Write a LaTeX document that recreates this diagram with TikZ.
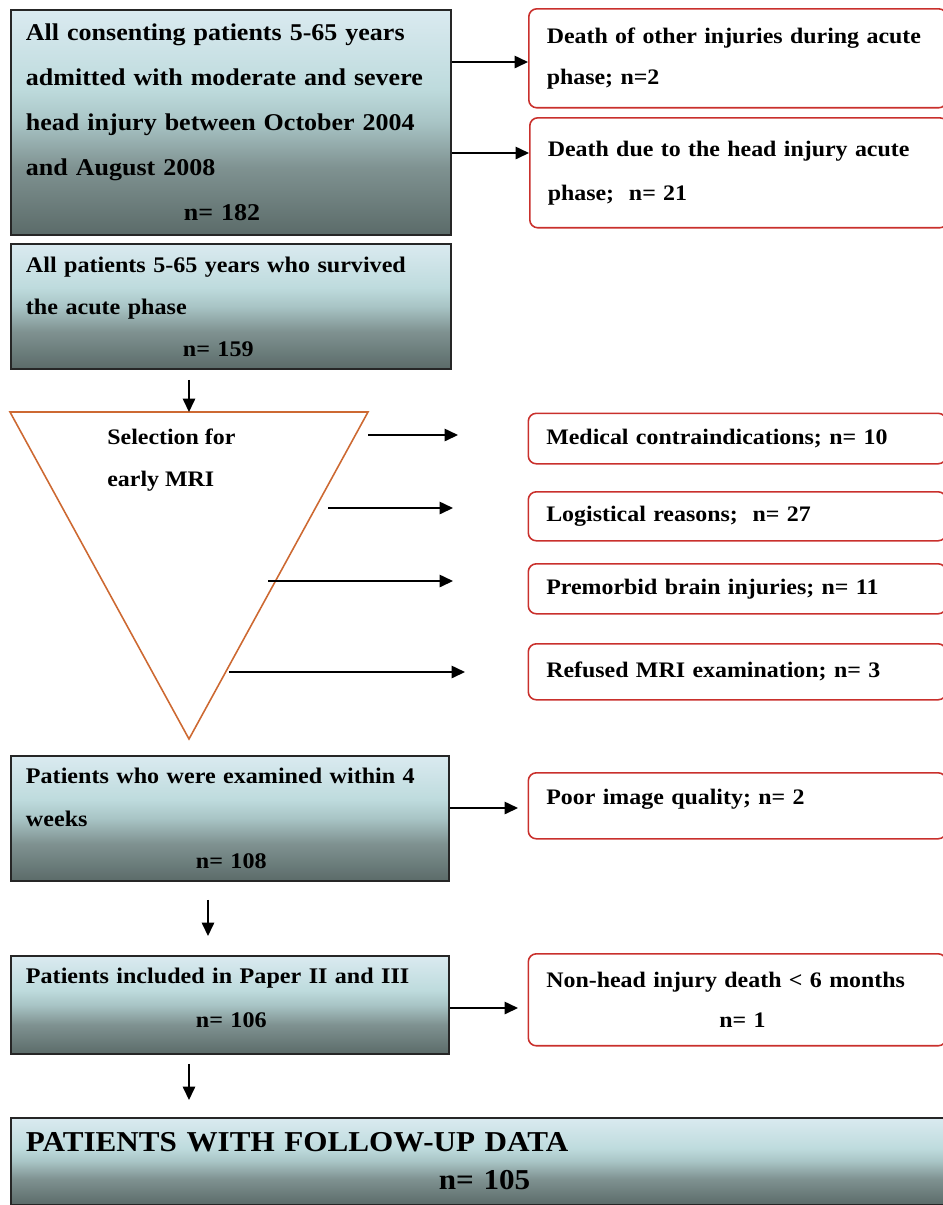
\documentclass[tikz,border=0pt]{standalone}
\usepackage{fontspec}
\setmainfont{Liberation Serif}[FakeStretch=1.08]
\usetikzlibrary{arrows.meta,calc}
\definecolor{shtop}{HTML}{DAEAF0}
\definecolor{shlight}{HTML}{BEDBDD}
\definecolor{shmid}{HTML}{A8C4C5}
\definecolor{shlow}{HTML}{7F9291}
\definecolor{shbot}{HTML}{5B6B69}
\definecolor{exred}{HTML}{C9302C}
\definecolor{selorange}{HTML}{CD6932}
\pgfdeclareverticalshading{boxshade}{100bp}{color(0bp)=(shbot); color(25bp)=(shbot); color(40bp)=(shlow); color(50bp)=(shmid); color(57.5bp)=(shlight); color(75bp)=(shtop); color(100bp)=(shtop)}
\tikzset{
  gbox/.style={draw=black!85,line width=1.1pt,shade,shading=boxshade,anchor=north west,align=left,inner xsep=0.3cm,inner ysep=0pt,font=\bfseries\fontsize{12.7}{24.2}\selectfont},
  exbox/.style={draw=exred,line width=0.9pt,rounded corners=0.16cm,anchor=north west,align=left,inner xsep=0.36cm,inner ysep=0pt,minimum width=8.36cm,text width=7.64cm,font=\bfseries\fontsize{12.6}{24}\selectfont},
  tri/.style={draw=selorange,line width=0.9pt,line join=miter},
  arr/.style={-{Triangle[length=2.7mm,width=2.5mm]},line width=0.9pt},
}
\begin{document}
\begin{tikzpicture}[x=0.02cm,y=-0.02cm]
  \useasboundingbox (0,0) rectangle (943,1205);

  % main flow
  \node[gbox,minimum width=8.8cm,text width=8.2cm,minimum height=4.5cm,font=\bfseries\fontsize{13.7}{25.6}\selectfont] (allpat) at (10,9) {All consenting patients 5-65 years\\admitted with moderate and severe\\head injury between October 2004\\and August 2008\\\hspace*{3.16cm}n= 182};
  \node[gbox,minimum width=8.8cm,text width=8.2cm,minimum height=2.5cm,font=\bfseries\fontsize{12.7}{23.9}\selectfont] (survived) at (10,243) {All patients 5-65 years who survived\\the acute phase\\\hspace*{3.14cm}n= 159};

  \coordinate (tl) at (10,412);
  \coordinate (tr) at (368,412);
  \coordinate (apex) at (189,739);
  \coordinate (seltop) at ($(tl)!0.5!(tr)$);
  \draw[tri] (tl) -- (tr) -- (apex) -- cycle;
  \node[font=\bfseries\fontsize{12.6}{23.9}\selectfont,align=left,anchor=north west,inner sep=0pt] (seltext) at (107,429) {Selection for\\early MRI};

  \node[gbox,minimum width=8.76cm,text width=8.16cm,minimum height=2.5cm] (examined) at (10,755) {Patients who were examined within 4\\weeks\\\hspace*{3.4cm}n= 108};
  \node[gbox,minimum width=8.76cm,text width=8.16cm,minimum height=1.96cm,font=\bfseries\fontsize{12.7}{25}\selectfont] (included) at (10,955) {Patients included in Paper II and III\\\hspace*{3.4cm}n= 106\rule[-0.28cm]{0pt}{0pt}};
  \node[gbox,minimum width=18.8cm,text width=18.2cm,minimum height=1.74cm,font=\bfseries\fontsize{16.4}{21.6}\selectfont] (followup) at (10,1117) {PATIENTS WITH FOLLOW-UP DATA\\\hspace*{8.26cm}n= 105};

  % exclusions
  \node[exbox,minimum height=1.98cm,font=\bfseries\fontsize{12.6}{23.3}\selectfont] (deathother) at (528,8) {Death of other injuries during acute\\phase; n=2};
  \node[exbox,minimum height=2.2cm,font=\bfseries\fontsize{12.6}{25}\selectfont] (deathhead) at (529,117) {Death due to the head injury acute\\phase;~ n= 21};
  \node[exbox,minimum height=1.01cm] (medical) at (527.5,412.5) {Medical contraindications; n= 10};
  \node[exbox,minimum height=0.98cm] (logistic) at (527.5,491) {Logistical reasons;~ n= 27};
  \node[exbox,minimum height=1.0cm] (premorbid) at (527.5,563) {Premorbid brain injuries; n= 11};
  \node[exbox,minimum height=1.12cm] (refused) at (527.5,643) {Refused MRI examination; n= 3};
  \node[exbox,minimum height=1.32cm] (poorimg) at (527.5,772) {Poor image quality; n= 2\rule[-0.37cm]{0pt}{0pt}};
  \node[exbox,minimum height=1.84cm,font=\bfseries\fontsize{12.6}{23.3}\selectfont] (nonhead) at (527.5,953) {Non-head injury death < 6 months\\\hspace*{3.46cm}n= 1};

  % arrow ends beside the triangle
  \coordinate (s1) at (368,435);
  \coordinate (e1) at (458,435);
  \coordinate (s2) at (328,508);
  \coordinate (e2) at (453,508);
  \coordinate (s3) at (268,581);
  \coordinate (e3) at (453,581);
  \coordinate (s4) at (229,672);
  \coordinate (e4) at (465,672);

  \draw[arr] (allpat.east |- 0,62) -- (deathother.west |- 0,62);
  \draw[arr] (allpat.east |- 0,153) -- (deathhead.west |- 0,153);
  \draw[arr] ([yshift=-0.2cm]survived.south -| seltop) -- (seltop);
  \draw[arr] (s1) -- (e1);
  \draw[arr] (s2) -- (e2);
  \draw[arr] (s3) -- (e3);
  \draw[arr] (s4) -- (e4);
  \draw[arr] (examined.east |- 0,808) -- ([xshift=-0.19cm]poorimg.west |- 0,808);
  \draw[arr] ([yshift=-0.36cm]examined.south -| 208,0) -- ([yshift=0.38cm]included.north -| 208,0);
  \draw[arr] (included.east |- 0,1008) -- ([xshift=-0.19cm]nonhead.west |- 0,1008);
  \draw[arr] ([yshift=-0.18cm]included.south -| 189,0) -- ([yshift=0.34cm]followup.north -| 189,0);
\end{tikzpicture}
\end{document}
